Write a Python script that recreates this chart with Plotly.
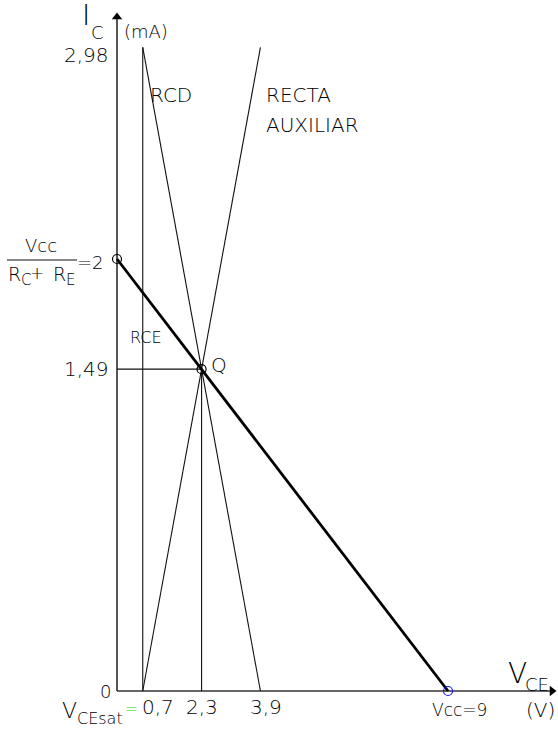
import plotly.graph_objects as go

# Operating point values (V and mA)
vce_sat = 0.7
vce_q = 2.3
vce_aux = 3.9
vcc = 9
ic_q = 1.49
ic_max = 2
ic_rcd = 2.98

x_ticks = [vce_sat, vce_q, vce_aux]
x_tick_text = ["0,7", "2,3", "3,9"]
y_ticks = [ic_rcd, ic_q]
y_tick_text = ["2,98", "1,49"]

W, H = 558, 729
# pixel placement of the origin and scale of the drawing
OX, OY = 117, 691
SX, SY = 36.78, 216.0


def px2x(px):
    return (px - OX) / SX


def py2y(py):
    return (OY - py) / SY


FONT = "DejaVu Sans"
INK = "#000000"

fig = go.Figure()


def seg(xs, ys, width=1.1, color="#111111"):
    fig.add_trace(go.Scatter(x=xs, y=ys, mode="lines",
                             line=dict(color=color, width=width),
                             hoverinfo="skip", showlegend=False))


# axes
seg([0, 0], [0, py2y(17)], width=1.4)
seg([0, px2x(550)], [0, 0], width=1.4, color="#333333")
fig.add_trace(go.Scatter(x=[0], y=[py2y(17)], mode="markers",
                         marker=dict(symbol="triangle-up", size=9, color="black"),
                         hoverinfo="skip", showlegend=False))
fig.add_trace(go.Scatter(x=[px2x(552)], y=[0], mode="markers",
                         marker=dict(symbol="triangle-right", size=9, color="black"),
                         hoverinfo="skip", showlegend=False))

# saturation vertical, RCD and auxiliary line
seg([vce_sat, vce_sat], [0, ic_rcd])
seg([vce_sat, vce_aux], [ic_rcd, 0])
seg([vce_sat, vce_aux], [0, ic_rcd])

# Q projections
seg([0, vce_q, vce_q], [ic_q, ic_q, 0])

# load line (RCE)
seg([0, vcc], [ic_max, 0], width=2.8, color="black")

# point markers
fig.add_trace(go.Scatter(x=[0, vce_q], y=[ic_max, ic_q], mode="markers",
                         marker=dict(symbol="circle-open", size=9,
                                     color="black", line=dict(width=1.2)),
                         hoverinfo="skip", showlegend=False))
fig.add_trace(go.Scatter(x=[vcc], y=[0], mode="markers",
                         marker=dict(symbol="circle-open", size=9,
                                     color="#1a1aff", line=dict(width=1.2)),
                         hoverinfo="skip", showlegend=False))


def label(x, y, text, size=20, xanchor="center", color=INK, dx=0, dy=0):
    fig.add_annotation(x=x, y=y, text=text, showarrow=False,
                       xanchor=xanchor, yanchor="middle",
                       xshift=dx, yshift=dy,
                       font=dict(family=FONT, size=size, color=color, weight=200))


# tick labels
for v, t in zip(x_ticks, x_tick_text):
    if v == vce_sat:
        label(v, py2y(707), t, size=20, xanchor="left", dx=-3)
    elif v == vce_aux:
        label(v, py2y(707), t, size=20, dx=6)
    else:
        label(v, py2y(707), t, size=20)
label(px2x(111), ic_rcd, y_tick_text[0], size=20, xanchor="right", dy=-8)
label(px2x(111), ic_q, y_tick_text[1], size=20, xanchor="right")
label(px2x(105), 0, "0", size=18)
label(vcc, py2y(710), "Vcc=9", size=17, dx=11)

# axis titles
label(px2x(86), py2y(15), "I", size=28)
label(px2x(97), py2y(32), "C", size=18)
label(px2x(122), py2y(31), "(mA)", size=18, xanchor="left")
label(px2x(517), py2y(673), "V", size=28)
label(px2x(537), py2y(684), "CE", size=18)
label(px2x(524), py2y(710), "(V)", size=20, xanchor="left")
label(px2x(69), py2y(710), "V", size=22)
label(px2x(100), py2y(718), "CEsat", size=16)
label(px2x(131), py2y(709), "=", size=15, color="#00e000")

# line names
label(px2x(148), py2y(95), "RCD", size=20, xanchor="left")
label(px2x(264), py2y(95), "RECTA", size=20, xanchor="left")
label(px2x(264), py2y(125), "AUXILIAR", size=20, xanchor="left")
label(px2x(128), py2y(337), "RCE", size=16, xanchor="left")
label(px2x(209), py2y(365), "Q", size=20, xanchor="left")

# short-circuit current fraction
label(px2x(41), py2y(245), "Vcc", size=18)
fig.add_shape(type="line", x0=px2x(7), x1=px2x(77), y0=py2y(260), y1=py2y(260),
              line=dict(color="#111111", width=1.1))
label(px2x(14), py2y(274), "R", size=19)
label(px2x(26), py2y(280), "C", size=15)
label(px2x(37), py2y(273), "+", size=17)
label(px2x(59), py2y(274), "R", size=19)
label(px2x(70), py2y(280), "E", size=15)
label(px2x(90), py2y(262), "=2", size=18)

fig.update_layout(
    width=W, height=H,
    margin=dict(l=0, r=0, t=0, b=0),
    paper_bgcolor="white", plot_bgcolor="white",
    xaxis=dict(range=[px2x(0), px2x(W)], visible=False, fixedrange=True),
    yaxis=dict(range=[py2y(H), py2y(0)], visible=False, fixedrange=True),
    showlegend=False,
)

fig.write_html("out.html")
